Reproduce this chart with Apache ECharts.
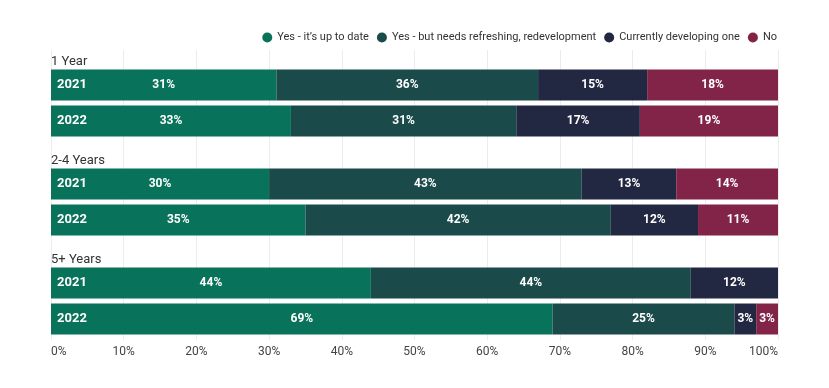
<!DOCTYPE html>
<html>
<head>
<meta charset="utf-8">
<script src="https://cdn.jsdelivr.net/npm/echarts@6/dist/echarts.min.js"></script>
<style>html,body{margin:0;padding:0;background:#fff}#c{width:829px;height:388px}</style>
</head>
<body>
<div id="c"></div>
<script>
const groups = ['1 Year', '2-4 Years', '5+ Years'];
const years = ['2021', '2022'];
const seriesNames = ['Yes - it\u2019s up to date', 'Yes - but needs refreshing, redevelopment', 'Currently developing one', 'No'];
// values ordered: 1Y-2021, 1Y-2022, 2-4Y-2021, 2-4Y-2022, 5+Y-2021, 5+Y-2022
const upToDate   = [31, 33, 30, 35, 44, 69];
const refreshing = [36, 31, 43, 42, 44, 25];
const developing = [15, 17, 13, 12, 12, 3];
const noneYet    = [18, 19, 14, 11, 0, 3];
const xTicks = [0, 10, 20, 30, 40, 50, 60, 70, 80, 90, 100];
const colors = ['#08735a', '#1b4a4a', '#232842', '#822448'];

const allValues = [upToDate, refreshing, developing, noneYet];
const gridTops = [67, 166, 265];
const L = 51, R = 51;

const grids = [{left: L, right: R, top: 50, bottom: 48}];
const xAxes = [{
  gridIndex: 0, type: 'value', min: xTicks[0], max: xTicks[xTicks.length - 1], interval: xTicks[1] - xTicks[0],
  axisLine: {show: false}, axisTick: {show: false},
  splitLine: {show: true, lineStyle: {color: '#ececec', width: 1}},
  axisLabel: {formatter: v => v + '%', color: '#444', fontSize: 12, fontFamily: 'Roboto', margin: 6,
    alignMinLabel: 'left', alignMaxLabel: 'right'}
}];
const yAxes = [{gridIndex: 0, type: 'category', data: [''], show: false}];
const titles = [];
const series = [];

groups.forEach((g, gi) => {
  const idx = gi + 1;
  grids.push({left: L, right: R, top: gridTops[gi], height: 72});
  xAxes.push({gridIndex: idx, type: 'value', min: 0, max: 100, show: false, splitLine: {show: false}});
  yAxes.push({
    gridIndex: idx, type: 'category', data: years, inverse: true, z: 10,
    axisLine: {show: false}, axisTick: {show: false},
    axisLabel: {inside: true, color: '#fff', fontWeight: 'bold', fontSize: 13, fontFamily: 'Roboto', margin: 6}
  });
  titles.push({text: g, left: L, top: gridTops[gi] - 12, padding: 0,
    textStyle: {fontSize: 13, fontWeight: 'normal', color: '#333', fontFamily: 'Roboto'}});
  allValues.forEach((vals, si) => {
    series.push({
      name: seriesNames[si], type: 'bar', stack: 'g' + gi,
      xAxisIndex: idx, yAxisIndex: idx, barWidth: 31,
      itemStyle: {color: colors[si]},
      label: {show: true, position: 'inside', color: '#fff', fontWeight: 'bold', fontSize: 12, fontFamily: 'Roboto',
        formatter: p => p.value > 0 ? p.value + '%' : ''},
      data: vals.slice(gi * 2, gi * 2 + 2)
    });
  });
});

const chart = echarts.init(document.getElementById('c'));
chart.setOption({
  animation: false,
  color: colors,
  title: titles,
  legend: {
    data: seriesNames, right: 52, top: 32, icon: 'circle', itemWidth: 10, itemHeight: 10, itemGap: 8,
    padding: 0,
    textStyle: {color: '#333', fontSize: 11, fontFamily: 'Roboto'}
  },
  grid: grids,
  xAxis: xAxes,
  yAxis: yAxes,
  series: series
});
</script>
</body>
</html>
